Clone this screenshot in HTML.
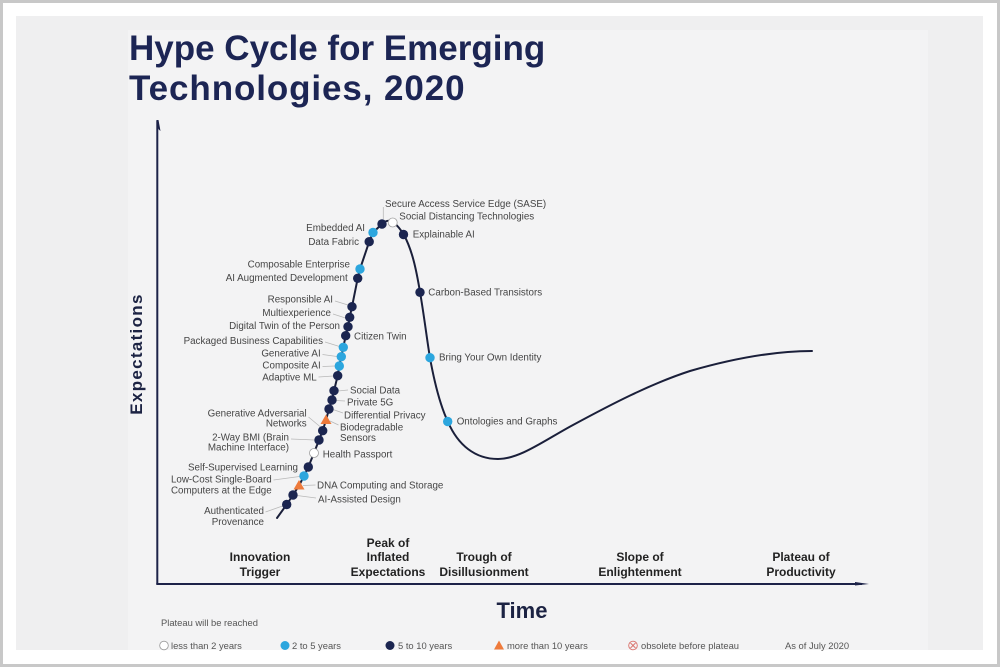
<!DOCTYPE html>
<html>
<head>
<meta charset="utf-8">
<style>
  html, body { margin:0; padding:0; background:#fff; }
  body { width:1000px; height:667px; overflow:hidden; }
  svg { display:block; }
  .lbl { font-family:"Liberation Sans", Arial, sans-serif; font-size:9.8px; fill:#454545; }
  .ph { font-family:"Liberation Sans", Arial, sans-serif; font-size:12px; font-weight:bold; fill:#222; text-anchor:middle; }
  .lg { font-family:"Liberation Sans", Arial, sans-serif; font-size:9.4px; fill:#555; }
  .ld { stroke:#b8b8b8; stroke-width:0.8; fill:none; }
</style>
</head>
<body>
<svg width="1000" height="667" viewBox="0 0 1000 667" xmlns="http://www.w3.org/2000/svg">
  <!-- frame -->
  <rect x="0" y="0" width="1000" height="667" fill="#ffffff"/>
  <rect x="1.5" y="1.5" width="997" height="664" fill="none" stroke="#c8c8c8" stroke-width="3"/>
  <rect x="16" y="16" width="967" height="634" fill="#efeff0"/>
  <rect x="128" y="30" width="800" height="620" fill="#f3f3f4"/>

  <!-- title -->
  <text x="129" y="60" font-family="Liberation Sans, Arial, sans-serif" font-size="35" font-weight="bold" fill="#1c2554">Hype Cycle for Emerging</text>
  <text x="129" y="100" font-family="Liberation Sans, Arial, sans-serif" font-size="35" font-weight="bold" letter-spacing="0.9" fill="#1c2554">Technologies, 2020</text>

  <!-- axes -->
  <line x1="157.3" y1="121" x2="157.3" y2="584" stroke="#1c2248" stroke-width="2"/>
  <polygon points="156.3,120 158.5,120 160.5,131 158.3,129" fill="#1c2248"/>
  <line x1="156.3" y1="584" x2="862" y2="584" stroke="#1c2248" stroke-width="2"/>
  <polygon points="855,582 869,584 855,585.5" fill="#1c2248"/>

  <text transform="translate(142,354) rotate(-90)" text-anchor="middle" font-family="Liberation Sans, Arial, sans-serif" font-size="17" font-weight="bold" letter-spacing="1.3" fill="#1c2343">Expectations</text>
  <text x="522" y="618" text-anchor="middle" font-family="Liberation Sans, Arial, sans-serif" font-size="22" font-weight="bold" fill="#1c2343">Time</text>

  <!-- phases -->
  <text class="ph" x="260" y="561">Innovation</text>
  <text class="ph" x="260" y="576">Trigger</text>
  <text class="ph" x="388" y="547">Peak of</text>
  <text class="ph" x="388" y="561">Inflated</text>
  <text class="ph" x="388" y="576">Expectations</text>
  <text class="ph" x="484" y="561">Trough of</text>
  <text class="ph" x="484" y="576">Disillusionment</text>
  <text class="ph" x="640" y="561">Slope of</text>
  <text class="ph" x="640" y="576">Enlightenment</text>
  <text class="ph" x="801" y="561">Plateau of</text>
  <text class="ph" x="801" y="576">Productivity</text>

  <!-- leader lines -->
  <line class="ld" x1="383.3" y1="207" x2="383.3" y2="219"/>
  <line class="ld" x1="335" y1="301" x2="348" y2="305"/>
  <line class="ld" x1="333" y1="314" x2="345.5" y2="318"/>
  <line class="ld" x1="325" y1="342" x2="339.5" y2="346.5"/>
  <line class="ld" x1="322.5" y1="354.5" x2="337" y2="356.5"/>
  <line class="ld" x1="322.5" y1="366.5" x2="335" y2="366"/>
  <line class="ld" x1="318.5" y1="377" x2="333.5" y2="376"/>
  <line class="ld" x1="343" y1="413" x2="333" y2="409.5"/>
  <line class="ld" x1="308.5" y1="417" x2="320.5" y2="427"/>
  <line class="ld" x1="338.5" y1="425" x2="330" y2="421"/>
  <line class="ld" x1="291" y1="439" x2="315" y2="440"/>
  <line class="ld" x1="273.5" y1="480" x2="299.5" y2="476.5"/>
  <line class="ld" x1="315.5" y1="485" x2="303" y2="485.5"/>
  <line class="ld" x1="316" y1="498" x2="297" y2="495.5"/>
  <line class="ld" x1="265.5" y1="512" x2="282.5" y2="506"/>
  <line class="ld" x1="348" y1="390" x2="338" y2="391"/>
  <line class="ld" x1="345" y1="401" x2="336" y2="400.5"/>

  <!-- curve -->
  <path d="M 277 518 L 286.7 504.5 L 293 495 L 299 485.7 L 304 476 L 308.3 467 L 314 453 L 319 440 L 322.7 430.7 L 326 420 L 329 409 L 332 400 L 334 390.7 L 337.7 375.7 L 339.3 366 L 341.3 356.7 L 343.3 347.3 L 345.7 335.7 L 348 326.7 L 349.7 317.3 L 352 306.7 L 357.7 278.3 L 360 269 L 369.2 241.7 L 373 232.5 L 382 224 C 385 221, 389 219.5, 393 222 C 397 225, 401 230, 404 235 C 412 250, 416 268, 420 292 C 424 315, 427 340, 430 358 C 434 380, 440 405, 448 422 C 458 445, 475 459, 498 459 C 520 459, 545 440, 573 425 C 610 405, 650 384, 690 371 C 735 358, 775 351, 812 351" fill="none" stroke="#1a1f3a" stroke-width="2" stroke-linejoin="round" stroke-linecap="round"/>

  <!-- dots -->
  <g stroke="none">
    <circle cx="382" cy="224" r="4.7" fill="#1b2550"/>
    <circle cx="392.7" cy="222.5" r="4.5" fill="#ffffff" stroke="#a0a0a0" stroke-width="0.8"/>
    <circle cx="373" cy="232.5" r="4.7" fill="#2ca6de"/>
    <circle cx="369.2" cy="241.7" r="4.7" fill="#1b2550"/>
    <circle cx="403.5" cy="234.5" r="4.7" fill="#1b2550"/>
    <circle cx="360" cy="269" r="4.7" fill="#2ca6de"/>
    <circle cx="357.7" cy="278.3" r="4.7" fill="#1b2550"/>
    <circle cx="420" cy="292.3" r="4.7" fill="#1b2550"/>
    <circle cx="352" cy="306.7" r="4.7" fill="#1b2550"/>
    <circle cx="349.7" cy="317.3" r="4.7" fill="#1b2550"/>
    <circle cx="348" cy="326.7" r="4.7" fill="#1b2550"/>
    <circle cx="345.7" cy="335.7" r="4.7" fill="#1b2550"/>
    <circle cx="343.3" cy="347.3" r="4.7" fill="#2ca6de"/>
    <circle cx="430" cy="357.7" r="4.7" fill="#2ca6de"/>
    <circle cx="341.3" cy="356.7" r="4.7" fill="#2ca6de"/>
    <circle cx="339.3" cy="366" r="4.7" fill="#2ca6de"/>
    <circle cx="337.7" cy="375.7" r="4.7" fill="#1b2550"/>
    <circle cx="334" cy="390.7" r="4.7" fill="#1b2550"/>
    <circle cx="332" cy="400" r="4.7" fill="#1b2550"/>
    <circle cx="329" cy="409" r="4.7" fill="#1b2550"/>
    <polygon points="326,414.5 331.5,424 320.5,424" fill="#ee7a3b"/>
    <circle cx="322.7" cy="430.7" r="4.7" fill="#1b2550"/>
    <circle cx="319" cy="440" r="4.7" fill="#1b2550"/>
    <circle cx="314" cy="453" r="4.5" fill="#ffffff" stroke="#a0a0a0" stroke-width="0.8"/>
    <circle cx="308.3" cy="467" r="4.7" fill="#1b2550"/>
    <circle cx="304" cy="476" r="4.7" fill="#2ca6de"/>
    <polygon points="299,480 304.5,489.5 293.5,489.5" fill="#ee7a3b"/>
    <circle cx="293" cy="495" r="4.7" fill="#1b2550"/>
    <circle cx="286.7" cy="504.5" r="4.7" fill="#1b2550"/>
    <circle cx="447.7" cy="421.5" r="4.7" fill="#2ca6de"/>
  </g>

  <!-- labels left (right aligned) -->
  <g class="lbl" text-anchor="end">
    <text x="365" y="231.2">Embedded AI</text>
    <text x="359" y="245.2">Data Fabric</text>
    <text x="350" y="267.5">Composable Enterprise</text>
    <text x="347.7" y="281.2">AI Augmented Development</text>
    <text x="333" y="302.5">Responsible AI</text>
    <text x="331" y="316.2">Multiexperience</text>
    <text x="340" y="328.8">Digital Twin of the Person</text>
    <text x="323" y="344.2">Packaged Business Capabilities</text>
    <text x="320.7" y="356.5">Generative AI</text>
    <text x="320.7" y="368.5">Composite AI</text>
    <text x="316.7" y="380.5">Adaptive ML</text>
    <text x="306.7" y="416.5">Generative Adversarial</text>
    <text x="306.7" y="426.5">Networks</text>
    <text x="289" y="440.5">2-Way BMI (Brain</text>
    <text x="289" y="450.5">Machine Interface)</text>
    <text x="298" y="470.5">Self-Supervised Learning</text>
    <text x="271.7" y="482.5">Low-Cost Single-Board</text>
    <text x="271.7" y="493.5">Computers at the Edge</text>
    <text x="264" y="514.2">Authenticated</text>
    <text x="264" y="525.2">Provenance</text>
  </g>

  <!-- labels right -->
  <g class="lbl">
    <text x="385" y="206.8">Secure Access Service Edge (SASE)</text>
    <text x="399.3" y="219.5">Social Distancing Technologies</text>
    <text x="412.7" y="237.5">Explainable AI</text>
    <text x="428.3" y="295.5">Carbon-Based Transistors</text>
    <text x="354" y="339.5">Citizen Twin</text>
    <text x="439" y="360.5">Bring Your Own Identity</text>
    <text x="456.7" y="424.5">Ontologies and Graphs</text>
    <text x="350" y="393.5">Social Data</text>
    <text x="347" y="405.5">Private 5G</text>
    <text x="344" y="418.5">Differential Privacy</text>
    <text x="340" y="430.5">Biodegradable</text>
    <text x="340" y="441.2">Sensors</text>
    <text x="322.7" y="457.5">Health Passport</text>
    <text x="317" y="488.5">DNA Computing and Storage</text>
    <text x="318" y="502.5">AI-Assisted Design</text>
  </g>

  <!-- legend -->
  <text class="lg" x="161" y="626">Plateau will be reached</text>
  <circle cx="164" cy="645.5" r="4.3" fill="#fff" stroke="#999" stroke-width="0.8"/>
  <text class="lg" x="171" y="649">less than 2 years</text>
  <circle cx="285" cy="645.5" r="4.5" fill="#2ca6de"/>
  <text class="lg" x="292" y="649">2 to 5 years</text>
  <circle cx="390" cy="645.5" r="4.5" fill="#1b2550"/>
  <text class="lg" x="398" y="649">5 to 10 years</text>
  <polygon points="499,640.5 504,649.5 494,649.5" fill="#ee7a3b"/>
  <text class="lg" x="507" y="649">more than 10 years</text>
  <circle cx="633" cy="645.5" r="4.3" fill="none" stroke="#d9706a" stroke-width="0.9"/>
  <line x1="630.5" y1="643" x2="635.5" y2="648" stroke="#d9706a" stroke-width="0.9"/>
  <line x1="635.5" y1="643" x2="630.5" y2="648" stroke="#d9706a" stroke-width="0.9"/>
  <text class="lg" x="641" y="649">obsolete before plateau</text>
  <text class="lg" x="785" y="649" fill="#444">As of July 2020</text>
</svg>
</body>
</html>
